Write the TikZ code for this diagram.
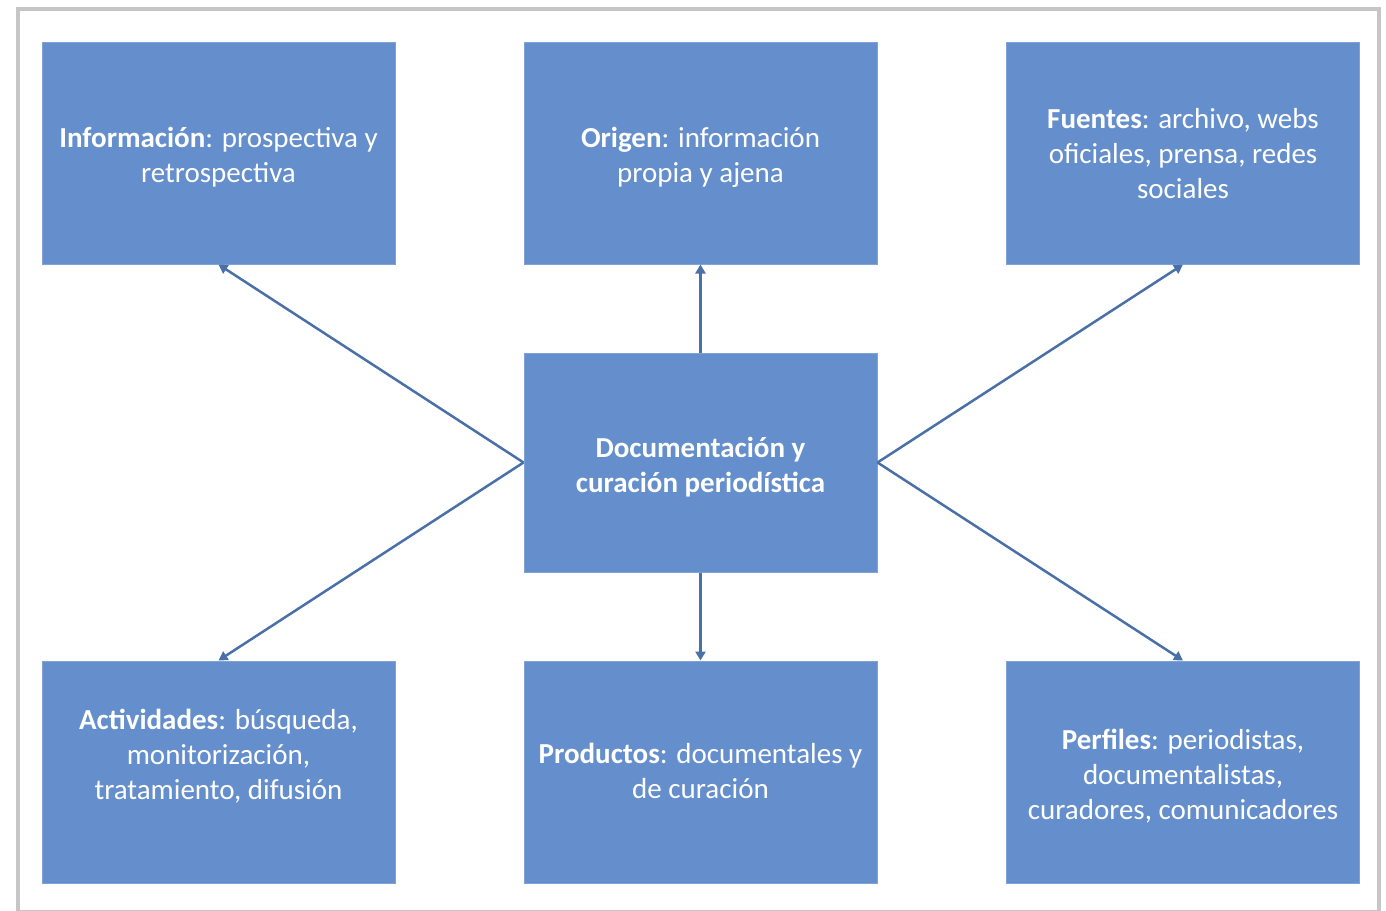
\documentclass[tikz,border=0pt]{standalone}
\usepackage{fontspec}
\setmainfont{Carlito}
\usetikzlibrary{arrows.meta}
\definecolor{boxblue}{HTML}{658FCC}
\definecolor{boxedge}{HTML}{7FA3D6}
\definecolor{arrowblue}{HTML}{4A70A8}
\definecolor{framegray}{HTML}{C6C6C6}
\newcommand{\mvtext}[2]{\raisebox{#1}[\height][\depth]{\begin{tabular}{@{}c@{}}#2\end{tabular}}}
\tikzset{
  box/.style={fill=boxblue, draw=boxedge, line width=1pt, minimum width=353pt, minimum height=222pt,
    inner sep=0pt, text=white, align=center, font=\fontsize{29}{35}\selectfont},
  conn/.style={draw=arrowblue, line width=2.5pt, -{Triangle[length=9pt,width=10pt]}}
}
\begin{document}
\begin{tikzpicture}[x=1pt,y=-1pt]
\useasboundingbox (0,0) rectangle (1386,910);
\draw[framegray, line width=4pt] (18,9) rectangle (1379,912);
\node[box] (info) at (218.5,153) {\mvtext{-5pt}{\textbf{Información}: prospectiva y\\retrospectiva}};
\node[box] (orig) at (700.5,153) {\mvtext{-5pt}{\textbf{Origen}: información\\propia y ajena}};
\node[box] (fuen) at (1183,153) {\mvtext{-3pt}{\textbf{Fuentes}: archivo, webs\\oficiales, prensa, redes\\sociales}};
\node[box, minimum height=219pt] (cent) at (700.5,462.5) {\mvtext{-5pt}{\textbf{Documentación y}\\\textbf{curación periodística}}};
\node[box] (acti) at (218.5,772) {\mvtext{15pt}{\textbf{Actividades}: búsqueda,\\monitorización,\\tratamiento, difusión}};
\node[box] (prod) at (700.5,772) {\mvtext{-2pt}{\textbf{Productos}: documentales y\\de curación}};
\node[box] (perf) at (1183,772) {\mvtext{-5pt}{\textbf{Perfiles}: periodistas,\\documentalistas,\\curadores, comunicadores}};
\draw[conn] (cent.west) -- (info.south);
\draw[conn] (cent.north) -- (orig.south);
\draw[conn] (cent.east) -- (fuen.south);
\draw[conn] (cent.west) -- (acti.north);
\draw[conn] (cent.south) -- (prod.north);
\draw[conn] (cent.east) -- (perf.north);
\end{tikzpicture}
\end{document}
